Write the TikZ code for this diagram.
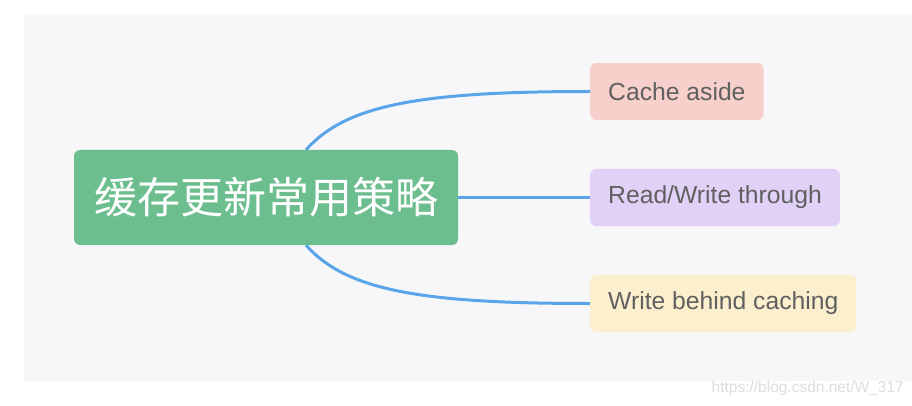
\documentclass[tikz,border=0pt]{standalone}
\usepackage{fontspec}
\setmainfont{Liberation Sans}
\newfontfamily\cjk{Noto Sans CJK SC}
\usepackage{tikz}
\usetikzlibrary{positioning}
\definecolor{panelgray}{HTML}{F7F7F9}
\definecolor{rootgreen}{HTML}{6CBE8F}
\definecolor{linkblue}{HTML}{5AA5E9}
\definecolor{leaftext}{HTML}{606060}
\definecolor{cachered}{HTML}{F7CFCB}
\definecolor{rwpurple}{HTML}{E1D1F7}
\definecolor{wbyellow}{HTML}{FCEFCD}
\definecolor{markgray}{HTML}{DDDDDD}

\begin{document}
\begin{tikzpicture}[x=1pt, y=-1pt,
    root/.style={fill=rootgreen, rounded corners=6pt, minimum width=384pt, minimum height=95pt, text=white, font=\cjk\fontsize{43}{43}\selectfont},
    leaf/.style={rounded corners=6pt, anchor=west, minimum height=57pt, inner xsep=18pt, text=leaftext, font=\fontsize{24.7}{24.7}\selectfont},
    link/.style={draw=linkblue, line width=3pt}
]
\useasboundingbox (0,0) rectangle (912,406);
\fill[panelgray] (24,14) rectangle (912,381);
\node[root] (strategy) at (266,197.5) {缓存更新常用策略};
\node[leaf, fill=cachered] (cache) at (590,91.5) {Cache aside};
\node[leaf, fill=rwpurple] (rw) at (590,197.5) {Read/Write through};
\node[leaf, fill=wbyellow] (wb) at (590,303.5) {Write behind caching};
\draw[link] (strategy.50) .. controls +(40,-45) and +(-170,0) .. (cache.west);
\draw[link] (strategy.east) -- (rw.west);
\draw[link] (strategy.-50) .. controls +(40,45) and +(-170,0) .. (wb.west);
\node[anchor=south east, inner sep=0pt, text=markgray, font=\fontsize{15.5}{15.5}\selectfont] (mark) at (904,396) {https://blog.csdn.net/W\_317};
\end{tikzpicture}
\end{document}
